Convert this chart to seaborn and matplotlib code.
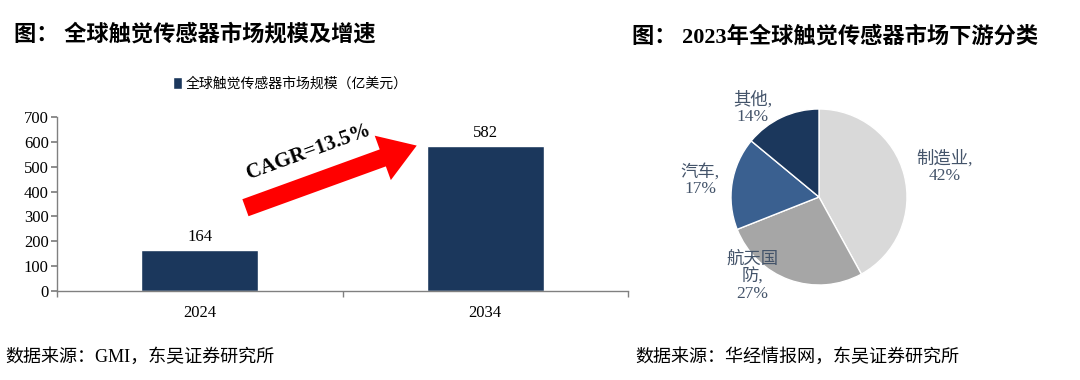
import matplotlib
matplotlib.use("Agg")
import matplotlib.pyplot as plt
import seaborn as sns
import pandas as pd

# data
years = ["2024", "2034"]
market_size = [164, 582]
bar_legend = "全球触觉传感器市场规模（亿美元）"
cagr_text = "CAGR=13.5%"

pie_labels = ["制造业,\n42%", "航天国\n防,\n27%", "汽车,\n17%", "其他,\n14%"]
pie_share = [42, 27, 17, 14]

title_left = "图： 全球触觉传感器市场规模及增速"
title_right = "图： 2023年全球触觉传感器市场下游分类"
source_left = "数据来源：GMI，东吴证券研究所"
source_right = "数据来源：华经情报网，东吴证券研究所"

sns.set_theme(style="white")
plt.rcParams['font.family'] = ['Liberation Serif', 'Noto Sans CJK SC', 'DejaVu Sans']
plt.rcParams['text.color'] = 'black'
plt.rcParams['xtick.color'] = 'black'
plt.rcParams['ytick.color'] = 'black'

navy = "#1B375C"
pie_colors = ["#D9D9D9", "#A6A6A6", "#3A6090", "#1B375C"]
label_color = "#44546A"

fig = plt.figure(figsize=(10.8, 3.8), dpi=100)

# ---- bar chart
ax = fig.add_axes([57 / 1080, 1 - 291 / 380, 571 / 1080, 174 / 380])
df = pd.DataFrame({"year": years, "size": market_size})
sns.barplot(data=df, x="year", y="size", color=navy, width=0.41, ax=ax,
            label=bar_legend, saturation=1)
ax.set_ylim(0, 700)
ax.set_xlim(-0.5, 1.5)
ax.set_yticks(range(0, 701, 100))
ax.set_xlabel("")
ax.set_ylabel("")
for s in ["top", "right"]:
    ax.spines[s].set_visible(False)
for s in ["left", "bottom"]:
    ax.spines[s].set_color("#808080")
    ax.spines[s].set_linewidth(1)
ax.tick_params(axis="y", labelsize=12, length=4, color="#808080", labelcolor="black",
               direction="out", left=True, pad=2)
ax.tick_params(axis="x", labelsize=12, length=0, pad=10, labelcolor="black")
ax.set_xticks([-0.5, 0.5, 1.5], minor=True)
ax.tick_params(axis="x", which="minor", length=4, color="#808080", direction="out", bottom=True)
for c in ax.containers:
    ax.bar_label(c, labels=[str(v) for v in market_size], fontsize=12, padding=4)
leg = ax.legend(loc="center", bbox_to_anchor=(0.408, 1.19), frameon=False, fontsize=10,
                handlelength=0.7, handleheight=0.9, handletextpad=0.2)
for t in leg.get_texts():
    t.set_family(['Noto Sans CJK SC'])
    t.set_color("black")

# CAGR arrow
ax.annotate("", xy=(0.76, 585), xytext=(0.16, 335),
            arrowprops=dict(arrowstyle="simple,head_width=3.4,head_length=2.6,tail_width=1.3",
                            mutation_scale=10, color="#FF0000", lw=0, shrinkA=0, shrinkB=0))
ax.text(0.38, 560, cagr_text, fontsize=15, fontweight="bold", rotation=20,
        ha="center", va="center")

# ---- pie chart
r = 88
cx, cy = 819, 197
pax = fig.add_axes([(cx - r) / 1080, 1 - (cy + r) / 380, 2 * r / 1080, 2 * r / 380])
wedges, _ = pax.pie(pie_share, colors=pie_colors, startangle=90, counterclock=False,
                    radius=1)
pax.set_xlim(-1, 1)
pax.set_ylim(-1, 1)
pax.set_aspect("equal")
label_pos = [(1.43, 0.34), (-0.76, -0.91), (-1.35, 0.19), (-0.75, 1.01)]
for lab, (x, y) in zip(pie_labels, label_pos):
    pax.text(x, y, lab, ha="center", va="center", fontsize=12.5, color=label_color,
             linespacing=1.05, clip_on=False)

# ---- titles and sources
fig.text(14 / 1080, 1 - 35 / 380, title_left, fontsize=16, fontweight="bold",
         va="center", family=['Liberation Serif', 'Noto Sans CJK SC'])
fig.text(632 / 1080, 1 - 37 / 380, title_right, fontsize=16, fontweight="bold",
         va="center", family=['Liberation Serif', 'Noto Sans CJK SC'])
fig.text(5 / 1080, 1 - 357 / 380, source_left, fontsize=13, va="center")
fig.text(635 / 1080, 1 - 357 / 380, source_right, fontsize=13, va="center")

fig.savefig("out.png", dpi=100)
